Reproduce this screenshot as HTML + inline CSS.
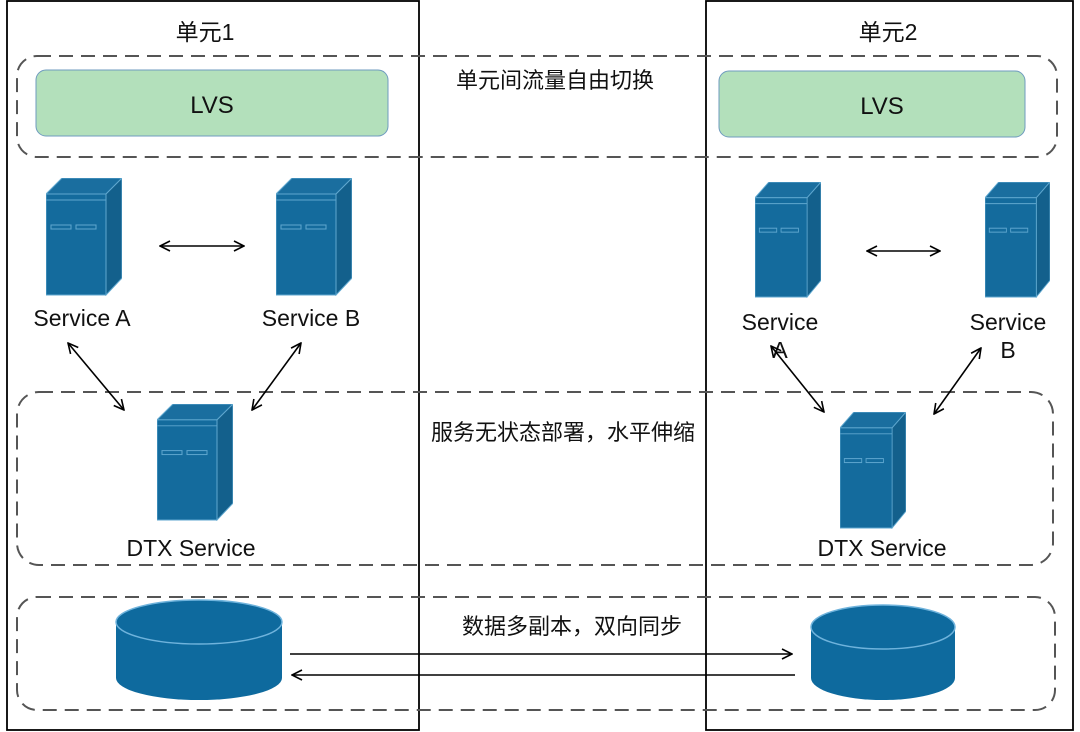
<!DOCTYPE html>
<html><head><meta charset="utf-8"><style>
html,body{margin:0;padding:0;background:#fff;}
svg{display:block}
text{font-family:"Liberation Sans","Noto Sans CJK SC",sans-serif;fill:#111;}
</style></head><body>
<svg width="1080" height="732" viewBox="0 0 1080 732" xmlns="http://www.w3.org/2000/svg">
<defs>
<symbol id="srv" viewBox="0 0 76 118" preserveAspectRatio="none">
  <polygon points="0,16 16,0 76,0 60,16" fill="#1a6e9f" stroke="#5fa7cf" stroke-width="1"/>
  <polygon points="60,16 76,0 76,100 60,117" fill="#13608c" stroke="#5fa7cf" stroke-width="1"/>
  <rect x="0" y="16" width="60" height="101" fill="#146b9d" stroke="#5fa7cf" stroke-width="1"/>
  <line x1="0" y1="22" x2="60" y2="22" stroke="#5fa7cf" stroke-width="1"/>
  <rect x="5" y="47" width="20" height="4" fill="none" stroke="#5fa7cf" stroke-width="1"/>
  <rect x="30" y="47" width="20" height="4" fill="none" stroke="#5fa7cf" stroke-width="1"/>
</symbol>
<marker id="ah" viewBox="0 0 12 12" refX="11" refY="6" markerWidth="12" markerHeight="12" markerUnits="userSpaceOnUse" orient="auto-start-reverse">
  <path d="M1,1 L11,6 L1,11" fill="none" stroke="#000" stroke-width="1.6"/>
</marker>
</defs>

<rect x="7" y="1" width="412" height="729" fill="none" stroke="#000" stroke-width="1.8"/>
<rect x="706" y="1" width="367" height="729" fill="none" stroke="#000" stroke-width="1.8"/>
<text x="205" y="40" font-size="23" text-anchor="middle">单元1</text>
<text x="888" y="40" font-size="23" text-anchor="middle">单元2</text>

<g fill="none" stroke="#555" stroke-width="2" stroke-dasharray="14,8">
<rect x="17" y="56" width="1040" height="101" rx="20"/>
<rect x="17" y="392" width="1036" height="173" rx="22"/>
<rect x="17" y="597" width="1038" height="113" rx="20"/>
</g>

<rect x="36" y="70" width="352" height="66" rx="10" fill="#b3e0bb" stroke="#6f9bbf" stroke-width="1"/>
<text x="212" y="113" font-size="24" text-anchor="middle">LVS</text>
<rect x="719" y="71" width="306" height="66" rx="10" fill="#b3e0bb" stroke="#6f9bbf" stroke-width="1"/>
<text x="882" y="114" font-size="24" text-anchor="middle">LVS</text>
<text x="555" y="88" font-size="22" text-anchor="middle">单元间流量自由切换</text>

<use href="#srv" x="46" y="178" width="76" height="118"/>
<use href="#srv" x="276" y="178" width="76" height="118"/>
<use href="#srv" x="157" y="404" width="76" height="117"/>
<use href="#srv" x="755" y="182" width="66" height="116"/>
<use href="#srv" x="985" y="182" width="65" height="116"/>
<use href="#srv" x="840" y="412" width="66" height="117"/>

<text x="82" y="326" font-size="23" text-anchor="middle">Service A</text>
<text x="311" y="326" font-size="23" text-anchor="middle">Service B</text>
<text x="191" y="556" font-size="23" text-anchor="middle">DTX Service</text>
<text x="780" y="330" font-size="23" text-anchor="middle">Service</text>
<text x="780" y="358" font-size="23" text-anchor="middle">A</text>
<text x="1008" y="330" font-size="23" text-anchor="middle">Service</text>
<text x="1008" y="358" font-size="23" text-anchor="middle">B</text>
<text x="882" y="556" font-size="23" text-anchor="middle">DTX Service</text>
<text x="563" y="440" font-size="22" text-anchor="middle">服务无状态部署，水平伸缩</text>
<text x="572" y="634" font-size="22" text-anchor="middle">数据多副本，双向同步</text>

<g stroke="#000" stroke-width="1.6" fill="none">
<line x1="160" y1="246" x2="244" y2="246" marker-start="url(#ah)" marker-end="url(#ah)"/>
<line x1="867" y1="251" x2="940" y2="251" marker-start="url(#ah)" marker-end="url(#ah)"/>
<line x1="68" y1="343" x2="124" y2="410" marker-start="url(#ah)" marker-end="url(#ah)"/>
<line x1="301" y1="343" x2="252" y2="410" marker-start="url(#ah)" marker-end="url(#ah)"/>
<line x1="771" y1="346" x2="824" y2="412" marker-start="url(#ah)" marker-end="url(#ah)"/>
<line x1="981" y1="348" x2="934" y2="414" marker-start="url(#ah)" marker-end="url(#ah)"/>
<line x1="290" y1="654" x2="792" y2="654" marker-end="url(#ah)"/>
<line x1="795" y1="675" x2="292" y2="675" marker-end="url(#ah)"/>
</g>

<g>
<path d="M116,622 L116,678 A83,22 0 0 0 282,678 L282,622 Z" fill="#0e6a9e"/>
<ellipse cx="199" cy="622" rx="83" ry="22" fill="#0e6a9e" stroke="#6fb3dc" stroke-width="1.5"/>
<path d="M811,627 L811,678 A72,22 0 0 0 955,678 L955,627 Z" fill="#0e6a9e"/>
<ellipse cx="883" cy="627" rx="72" ry="22" fill="#0e6a9e" stroke="#6fb3dc" stroke-width="1.5"/>
</g>
</svg>
</body></html>
